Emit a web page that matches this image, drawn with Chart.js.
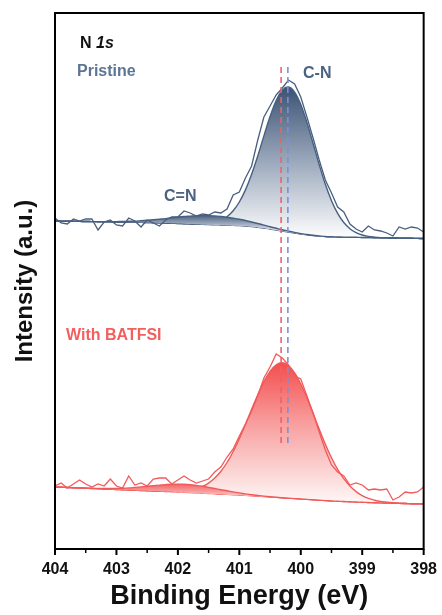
<!DOCTYPE html>
<html>
<head>
<meta charset="utf-8">
<script src="https://cdn.jsdelivr.net/npm/chart.js@4.4.1/dist/chart.umd.min.js"></script>
<style>
  html, body { margin: 0; padding: 0; background: #fff; }
  #xpsChart { display: block; }
</style>
</head>
<body>
<canvas id="xpsChart" width="442" height="615"></canvas>
<script>
// N 1s spectra, 0.1 eV steps, intensities in a.u. (spectra already stacked)
const energy = [
  404.0, 403.9, 403.8, 403.7, 403.6, 403.5, 403.4, 403.3, 403.2, 403.1,
  403.0, 402.9, 402.8, 402.7, 402.6, 402.5, 402.4, 402.3, 402.2, 402.1,
  402.0, 401.9, 401.8, 401.7, 401.6, 401.5, 401.4, 401.3, 401.2, 401.1,
  401.0, 400.9, 400.8, 400.7, 400.6, 400.5, 400.4, 400.3, 400.2, 400.1,
  400.0, 399.9, 399.8, 399.7, 399.6, 399.5, 399.4, 399.3, 399.2, 399.1,
  399.0, 398.9, 398.8, 398.7, 398.6, 398.5, 398.4, 398.3, 398.2, 398.1, 398.0
];

const pristineRaw = [
  3310, 3260, 3250, 3300, 3280, 3300, 3300, 3190, 3270, 3290,
  3240, 3230, 3310, 3280, 3220, 3290, 3260, 3230, 3290, 3320,
  3320, 3380, 3360, 3330, 3350, 3340, 3370, 3360, 3400, 3540,
  3570, 3710, 3830, 4090, 4320, 4430, 4540, 4610, 4690, 4650,
  4520, 4320, 4110, 3890, 3690, 3560, 3420, 3370, 3250, 3200,
  3170, 3230, 3190, 3180, 3160, 3130, 3220, 3200, 3220, 3210, 3170
];
const pristineCN = [
  3280, 3279, 3278, 3277, 3276, 3275, 3274, 3273, 3272, 3271,
  3270, 3269, 3268, 3267, 3266, 3265, 3263, 3261, 3259, 3257,
  3255, 3253, 3251, 3250, 3252, 3256, 3267, 3287, 3323, 3382,
  3470, 3591, 3747, 3931, 4131, 4324, 4485, 4589, 4620, 4569,
  4445, 4266, 4056, 3843, 3647, 3483, 3356, 3265, 3203, 3164,
  3140, 3126, 3119, 3114, 3111, 3110, 3109, 3108, 3107, 3106, 3105
];
const pristineCeqN = [
  3280, 3279, 3278, 3277, 3276, 3275, 3274, 3274, 3274, 3274,
  3274, 3275, 3277, 3279, 3283, 3287, 3292, 3298, 3304, 3312,
  3319, 3325, 3329, 3333, 3335, 3334, 3331, 3325, 3317, 3308,
  3298, 3285, 3270, 3255, 3239, 3222, 3207, 3192, 3179, 3166,
  3154, 3145, 3137, 3131, 3125, 3122, 3120, 3119, 3118, 3117,
  3115, 3114, 3113, 3112, 3111, 3110, 3109, 3108, 3107, 3106, 3105
];
const pristineBg = [
  3280, 3279, 3278, 3277, 3276, 3275, 3274, 3273, 3272, 3271,
  3270, 3269, 3268, 3267, 3266, 3265, 3263, 3261, 3259, 3257,
  3255, 3253, 3250, 3248, 3246, 3244, 3242, 3240, 3238, 3236,
  3234, 3230, 3225, 3218, 3210, 3200, 3190, 3180, 3170, 3160,
  3150, 3142, 3135, 3130, 3125, 3122, 3120, 3119, 3118, 3117,
  3115, 3114, 3113, 3112, 3111, 3110, 3109, 3108, 3107, 3106, 3105
];

const batfsiRaw = [
  630, 660, 610, 650, 690, 650, 620, 650, 630, 700,
  630, 610, 730, 640, 660, 630, 700, 710, 710, 650,
  690, 730, 690, 660, 680, 700, 770, 820, 920, 1000,
  1130, 1250, 1380, 1530, 1710, 1820, 1950, 1910, 1840, 1730,
  1700, 1530, 1360, 1170, 990, 840, 770, 730, 640, 660,
  640, 590, 600, 590, 600, 490, 520, 570, 560, 570, 620
];
const batfsiCN = [
  620, 618, 615, 613, 610, 608, 605, 603, 600, 598,
  595, 593, 590, 588, 585, 583, 580, 578, 577, 577,
  578, 581, 589, 602, 625, 659, 709, 777, 865, 975,
  1104, 1247, 1397, 1543, 1674, 1777, 1842, 1862, 1834, 1761,
  1650, 1511, 1357, 1199, 1048, 912, 796, 703, 629, 574,
  534, 506, 488, 475, 468, 462, 458, 455, 453, 452, 450
];
const batfsiCeqN = [
  620, 618, 615, 613, 610, 609, 607, 606, 605, 605,
  606, 608, 611, 616, 621, 627, 633, 639, 644, 648,
  649, 647, 643, 636, 627, 616, 605, 593, 582, 571,
  561, 551, 543, 535, 529, 523, 518, 512, 508, 504,
  500, 496, 492, 488, 484, 480, 477, 475, 472, 470,
  467, 465, 463, 461, 460, 458, 456, 455, 453, 452, 450
];
const batfsiBg = [
  620, 618, 615, 613, 610, 608, 605, 603, 600, 598,
  595, 593, 590, 588, 585, 583, 580, 578, 575, 573,
  570, 567, 564, 561, 558, 555, 552, 549, 546, 543,
  540, 536, 532, 528, 524, 520, 516, 512, 508, 504,
  500, 496, 492, 488, 484, 480, 477, 475, 472, 470,
  467, 465, 463, 461, 460, 458, 456, 455, 453, 452, 450
];

// C-N peak positions (BATFSI, pristine) and the span of the guide lines
const peakEnergy = [400.32, 400.21];
const guideSpan = [4820, 1060];

const majorTicks = [404, 403, 402, 401, 400, 399, 398];
const yRange = [0, 5360];

const FONT = "'Liberation Sans', Arial, Helvetica, sans-serif";
const BLUE = '#485f80';
const RED = '#f25a5a';

function pts(ys) { return energy.map((e, i) => ({ x: e, y: ys[i] })); }

function vGradient(chart, topVal, bottomVal, stops) {
    const { ctx, chartArea, scales } = chart;
    if (!chartArea) return stops[0][1];
    const g = ctx.createLinearGradient(0, scales.y.getPixelForValue(topVal), 0, scales.y.getPixelForValue(bottomVal));
    stops.forEach(([o, c]) => g.addColorStop(o, c));
    return g;
}

function fitLine(data, color, target, top, bottom, stops) {
    return {
        data: pts(data), borderColor: color, borderWidth: 1.4, tension: 0.35,
        pointRadius: 0, fill: { target: target },
        backgroundColor: ctx => vGradient(ctx.chart, top, bottom, stops)
    };
}

function guide(e, color) {
    return {
        data: [{ x: e, y: guideSpan[0] }, { x: e, y: guideSpan[1] }],
        borderColor: color, borderWidth: 1.6, borderDash: [6, 4], pointRadius: 0, fill: false
    };
}

// frame, tick marks and the in-plot labels
const decorations = {
    id: 'decorations',
    afterDraw(chart) {
        const { ctx, chartArea: a, scales } = chart;
        ctx.save();
        ctx.strokeStyle = '#000';
        ctx.lineWidth = 2;
        ctx.strokeRect(a.left, a.top, a.right - a.left, a.bottom - a.top);

        for (let i = 0; i < majorTicks.length; i++) {
            const x = scales.x.getPixelForValue(majorTicks[i]);
            ctx.beginPath(); ctx.moveTo(x, a.bottom); ctx.lineTo(x, a.bottom + 6); ctx.stroke();
            if (i < majorTicks.length - 1) {
                const xm = scales.x.getPixelForValue(majorTicks[i] - 0.5);
                ctx.lineWidth = 1.5;
                ctx.beginPath(); ctx.moveTo(xm, a.bottom); ctx.lineTo(xm, a.bottom + 4); ctx.stroke();
                ctx.lineWidth = 2;
            }
        }

        ctx.textBaseline = 'alphabetic';
        ctx.fillStyle = '#111';
        ctx.font = 'bold 16px ' + FONT;
        ctx.fillText('N ', 80, 48);
        const w = ctx.measureText('N ').width;
        ctx.font = 'italic bold 16px ' + FONT;
        ctx.fillText('1s', 80 + w, 48);

        ctx.font = 'bold 16px ' + FONT;
        ctx.fillStyle = '#5d7595';
        ctx.fillText('Pristine', 77, 76);
        ctx.fillStyle = '#4b6282';
        ctx.fillText('C-N', 303, 78);
        ctx.fillText('C=N', 164, 201);
        ctx.fillStyle = '#f25f5f';
        ctx.fillText('With BATFSI', 66, 340);
        ctx.restore();
    }
};

function initChart() {
    const ctx = document.getElementById('xpsChart').getContext('2d');
    const blueTop = Math.max(...pristineCN), blueBottom = Math.min(...pristineBg);
    const redTop = Math.max(...batfsiCN), redBottom = Math.min(...batfsiBg);

    new Chart(ctx, {
        type: 'line',
        data: {
            datasets: [
                guide(peakEnergy[0], '#f0606a'),
                guide(peakEnergy[1], '#7a90d6'),
                { data: pts(pristineRaw), borderColor: BLUE, borderWidth: 1.3, tension: 0, pointRadius: 0, fill: false },
                fitLine(pristineCeqN, BLUE, 5, Math.max(...pristineCeqN), 3200, [[0, '#4a6182'], [1, '#d3d9e2']]),
                fitLine(pristineCN, BLUE, 5, blueTop, blueBottom, [[0, '#3a5373'], [0.45, '#93a1b6'], [1, '#ffffff']]),
                { data: pts(pristineBg), borderColor: BLUE, borderWidth: 1.4, tension: 0.3, pointRadius: 0, fill: false },
                { data: pts(batfsiRaw), borderColor: RED, borderWidth: 1.3, tension: 0, pointRadius: 0, fill: false },
                fitLine(batfsiCeqN, RED, 9, Math.max(...batfsiCeqN), 520, [[0, '#f36565'], [1, '#fbcaca']]),
                fitLine(batfsiCN, RED, 9, redTop, redBottom, [[0, '#f44e4e'], [0.45, '#f8a2a2'], [1, '#fff8f8']]),
                { data: pts(batfsiBg), borderColor: RED, borderWidth: 1.4, tension: 0.3, pointRadius: 0, fill: false }
            ]
        },
        options: {
            responsive: false,
            animation: false,
            layout: { padding: { top: 13, right: 16, left: 0, bottom: 0 } },
            plugins: { legend: { display: false }, tooltip: { enabled: false } },
            scales: {
                x: {
                    type: 'linear', reverse: true, min: 398, max: 404,
                    afterFit: s => { s.height = 66; },
                    grid: { display: true, drawOnChartArea: false, drawTicks: true, tickLength: 6, color: 'rgba(0,0,0,0)' },
                    border: { display: false },
                    ticks: {
                        stepSize: 1, padding: 5, color: '#111', maxRotation: 0,
                        font: { family: FONT, size: 16, weight: 'bold' }
                    },
                    title: {
                        display: true, text: 'Binding Energy (eV)', color: '#111',
                        font: { family: FONT, size: 27, weight: 'bold' }, padding: { top: 0, bottom: 2 }
                    }
                },
                y: {
                    min: yRange[0], max: yRange[1],
                    afterFit: s => { s.width = 55; },
                    grid: { display: false },
                    border: { display: false },
                    ticks: { display: false },
                    title: {
                        display: true, text: 'Intensity (a.u.)', color: '#111',
                        font: { family: FONT, size: 24, weight: 'bold' }, padding: { top: 11, bottom: 0 }
                    }
                }
            }
        },
        plugins: [decorations]
    });
}

window.onload = initChart;
</script>
</body>
</html>
